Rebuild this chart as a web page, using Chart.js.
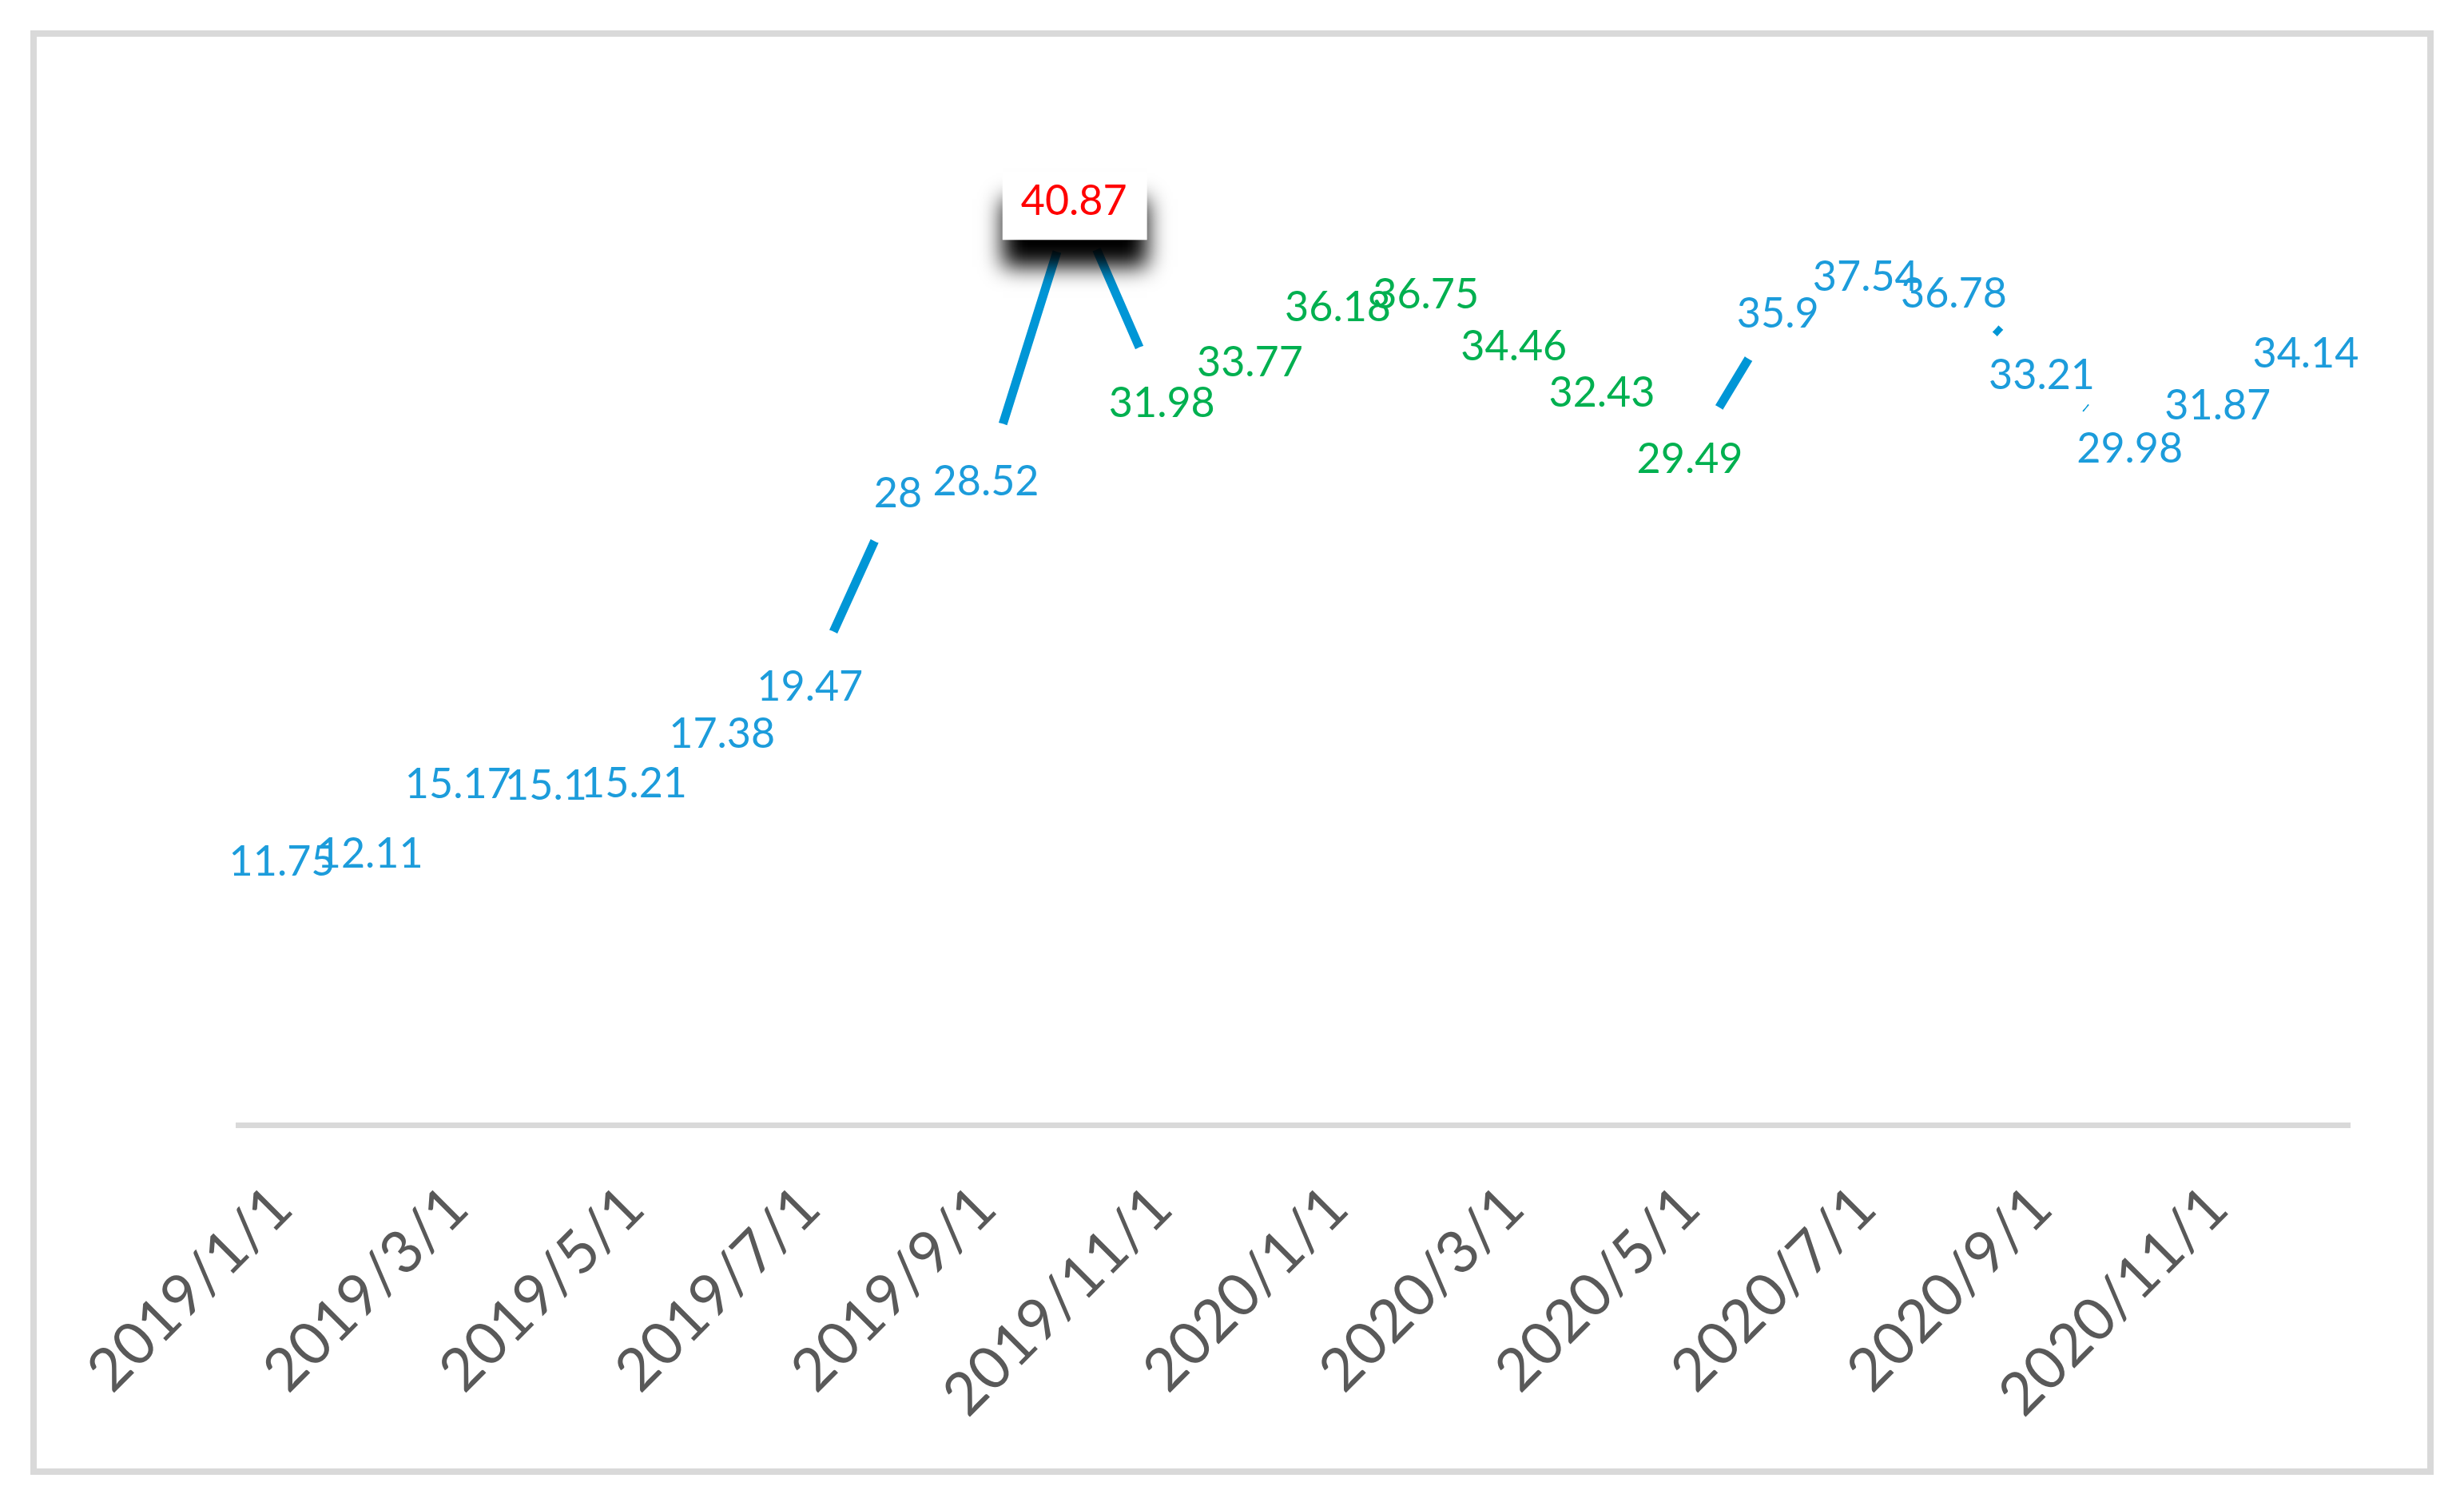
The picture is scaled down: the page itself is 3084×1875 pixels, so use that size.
<!DOCTYPE html>
<html>
<head>
<meta charset="utf-8">
<script src="https://cdn.jsdelivr.net/npm/chart.js@4.4.1/dist/chart.umd.min.js"></script>
<style>
html,body{margin:0;padding:0;background:#ffffff;}
canvas{display:block;}
</style>
</head>
<body>
<canvas id="chart" width="3084" height="1875"></canvas>
<script>
// ---- data ----
const categories = [
  '2019/1/1','2019/2/1','2019/3/1','2019/4/1','2019/5/1','2019/6/1',
  '2019/7/1','2019/8/1','2019/9/1','2019/10/1','2019/11/1','2019/12/1',
  '2020/1/1','2020/2/1','2020/3/1','2020/4/1','2020/5/1','2020/6/1',
  '2020/7/1','2020/8/1','2020/9/1','2020/10/1','2020/11/1','2020/12/1'
];
const values = [
  11.75, 12.11, 15.17, 15.1, 15.21, 17.38,
  19.47, 28, 28.52, 40.87, 31.98, 33.77,
  36.18, 36.75, 34.46, 32.43, 29.49, 35.9,
  37.54, 36.78, 33.21, 29.98, 31.87, 34.14
];
const tickLabels = [
  '2019/1/1','','2019/3/1','','2019/5/1','',
  '2019/7/1','','2019/9/1','','2019/11/1','',
  '2020/1/1','','2020/3/1','','2020/5/1','',
  '2020/7/1','','2020/9/1','','2020/11/1',''
];
const greenPeriod = ['2019/11/1', '2020/5/1'];

// ---- styles ----
const LINE_COLOR = '#0096D6';
const BLUE_TEXT = '#1C9CDB';
const GREEN_TEXT = '#00B050';
const RED_TEXT = '#FF0000';

const greenStart = categories.indexOf(greenPeriod[0]);
const greenEnd = categories.indexOf(greenPeriod[1]);
const maxValue = Math.max(...values);

const frame = {
  id: 'frame',
  beforeDraw(chart) {
    const ctx = chart.ctx;
    ctx.save();
    ctx.fillStyle = '#ffffff';
    ctx.fillRect(0, 0, chart.width, chart.height);
    ctx.strokeStyle = '#D9D9D9';
    ctx.lineWidth = 8;
    ctx.strokeRect(42, 42, 3000, 1800);
    ctx.restore();
  }
};

const valueLabels = {
  id: 'valueLabels',
  afterDatasetsDraw(chart) {
    const ctx = chart.ctx;
    const meta = chart.getDatasetMeta(0);
    ctx.save();
    ctx.font = '52px Lato';
    ctx.textAlign = 'center';
    ctx.textBaseline = 'alphabetic';
    meta.data.forEach((pt, i) => {
      const v = values[i];
      const txt = String(v);
      const x = pt.x, y = pt.y;
      if (v === maxValue) {
        const w = ctx.measureText(txt).width + 48;
        ctx.save();
        ctx.shadowColor = 'rgba(0,0,0,1)';
        ctx.shadowBlur = 26;
        ctx.shadowOffsetY = 34;
        ctx.fillStyle = '#ffffff';
        ctx.fillRect(x - w / 2 + 1, y - 32, w, 85);
        ctx.restore();
        ctx.fillStyle = RED_TEXT;
      } else if (i >= greenStart && i <= greenEnd) {
        ctx.fillStyle = GREEN_TEXT;
      } else {
        ctx.fillStyle = BLUE_TEXT;
      }
      ctx.fillText(txt, x, y + 22);
    });
    ctx.restore();
  }
};

function draw() {
  new Chart(document.getElementById('chart'), {
    type: 'line',
    data: {
      labels: categories,
      datasets: [{
        data: values,
        borderColor: LINE_COLOR,
        borderWidth: 11,
        tension: 0,
        fill: false,
        pointRadius: 71,
        pointHoverRadius: 71,
        pointBackgroundColor: '#ffffff',
        pointBorderWidth: 0,
        pointBorderColor: 'rgba(0,0,0,0)',
        clip: false
      }]
    },
    options: {
      responsive: false,
      devicePixelRatio: 1,
      animation: false,
      events: [],
      layout: { padding: { left: 298, right: 143, top: 130, bottom: 0 } },
      plugins: { legend: { display: false }, tooltip: { enabled: false } },
      scales: {
        x: {
          type: 'category',
          offset: true,
          grid: { display: false, drawTicks: false },
          border: { display: true, color: '#D9D9D9', width: 7 },
          ticks: {
            autoSkip: false,
            minRotation: 45,
            maxRotation: 45,
            padding: 60,
            color: '#595959',
            font: { family: 'Lato', size: 74 },
            callback: (val, i) => tickLabels[i]
          },
          afterFit: (scale) => { scale.height = 1875 - 1408; }
        },
        y: { display: false, min: 0, max: 45 }
      }
    },
    plugins: [frame, valueLabels]
  });
}

Promise.all([
  document.fonts.load('52px Lato'),
  document.fonts.load('74px Lato')
]).then(draw, draw);
</script>
</body>
</html>
